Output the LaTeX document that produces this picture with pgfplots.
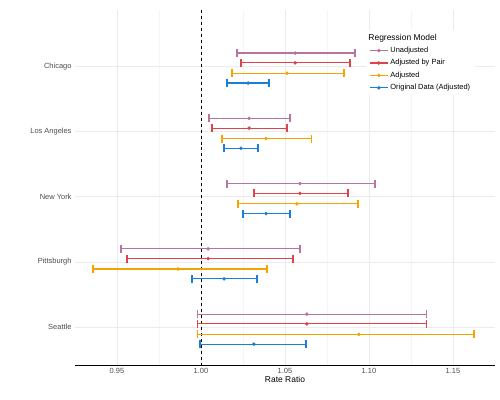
\documentclass[border=0pt]{standalone}
\usepackage{pgfplots}
\pgfplotsset{compat=1.18}
\usepackage{fontspec}
\setmainfont{Liberation Sans}
\definecolor{cU}{HTML}{B8739E}
\definecolor{cP}{HTML}{E0414A}
\definecolor{cA}{HTML}{F5A300}
\definecolor{cO}{HTML}{1A7FD6}
\pgfplotsset{
  ser/.style={color=#1, mark=*, mark size=1.6pt, only marks, mark options={fill=#1, draw=#1},
    legend image code/.code={\draw[#1, line width=1.2pt] (0bp,0bp) -- (18bp,0bp); \fill[#1] (9bp,0bp) circle (1.6pt);},
    error bars/.cd, x dir=both, x explicit,
    error bar style={line width=1.2pt, draw=#1},
    error mark options={rotate=90, mark size=4pt, line width=1.2pt, draw=#1}},
}
\begin{document}
\begin{tikzpicture}[x=1bp,y=1bp]
\useasboundingbox (-75bp,-35bp) rectangle (425bp,365bp);
\begin{axis}[
  scale only axis, width=420bp, height=355bp,
  xmin=0.925, xmax=1.175, ymin=0.14, ymax=5.58, y dir=reverse,
  axis line style={draw=none},
  axis x line*=bottom, x axis line style={draw=black, -},
  xtick={0.95,1.00,1.05,1.10,1.15},
  xticklabels={0.95,1.00,1.05,1.10,1.15},
  ytick={1,2,3,4,5},
  yticklabels={Chicago,Los Angeles,New York,Pittsburgh,Seattle},
  tick style={draw=none},
  ticklabel style={font=\fontsize{7.5}{9}\selectfont, text=black!70},
  grid=major, major grid style={black!8},
  minor xtick={0.975,1.025,1.075,1.125}, minor grid style={black!4}, xminorgrids=true,
  xlabel={Rate Ratio}, xlabel style={font=\fontsize{8.5}{10}\selectfont, yshift=4bp},
  legend style={at={(0.693,0.944)}, anchor=north west, draw=none, fill=white,
    font=\fontsize{7.5}{9}\selectfont, row sep=1.5pt},
  legend cell align=left,
  clip=false,
]
\addlegendimage{empty legend}
\addlegendentry{\hspace{-22bp}\fontsize{8.5}{10}\selectfont Regression Model}
\draw[dashed, thick] (axis cs:1.0,0.14) -- (axis cs:1.0,5.58);
\addplot[ser=cU] coordinates {
(1.056,0.8) += (0.0357,0) -= (0.0346,0)
(1.0286,1.8) += (0.0244,0) -= (0.0238,0)
(1.0589,2.8) += (0.0447,0) -= (0.0434,0)
(1.0042,3.8) += (0.0547,0) -= (0.0518,0)
(1.063,4.8) += (0.071,0) -= (0.065,0)
};
\addlegendentry{Unadjusted}
\addplot[ser=cP] coordinates {
(1.056,0.95) += (0.0327,0) -= (0.0322,0)
(1.0286,1.95) += (0.0226,0) -= (0.0221,0)
(1.0589,2.95) += (0.0286,0) -= (0.0274,0)
(1.0042,3.95) += (0.0506,0) -= (0.0482,0)
(1.063,4.95) += (0.071,0) -= (0.065,0)
};
\addlegendentry{Adjusted by Pair}
\addplot[ser=cA] coordinates {
(1.0512,1.11) += (0.0339,0) -= (0.0327,0)
(1.0387,2.11) += (0.0273,0) -= (0.0262,0)
(1.0571,3.11) += (0.0364,0) -= (0.0351,0)
(0.9863,4.11) += (0.053,0) -= (0.0506,0)
(1.094,5.11) += (0.0685,0) -= (0.096,0)
};
\addlegendentry{Adjusted}
\addplot[ser=cO] coordinates {
(1.028,1.26) += (0.0125,0) -= (0.0125,0)
(1.0238,2.26) += (0.0101,0) -= (0.0101,0)
(1.0387,3.26) += (0.0143,0) -= (0.0137,0)
(1.0137,4.26) += (0.0196,0) -= (0.0191,0)
(1.0315,5.26) += (0.031,0) -= (0.0321,0)
};
\addlegendentry{Original Data (Adjusted)}
\end{axis}
\end{tikzpicture}
\end{document}
